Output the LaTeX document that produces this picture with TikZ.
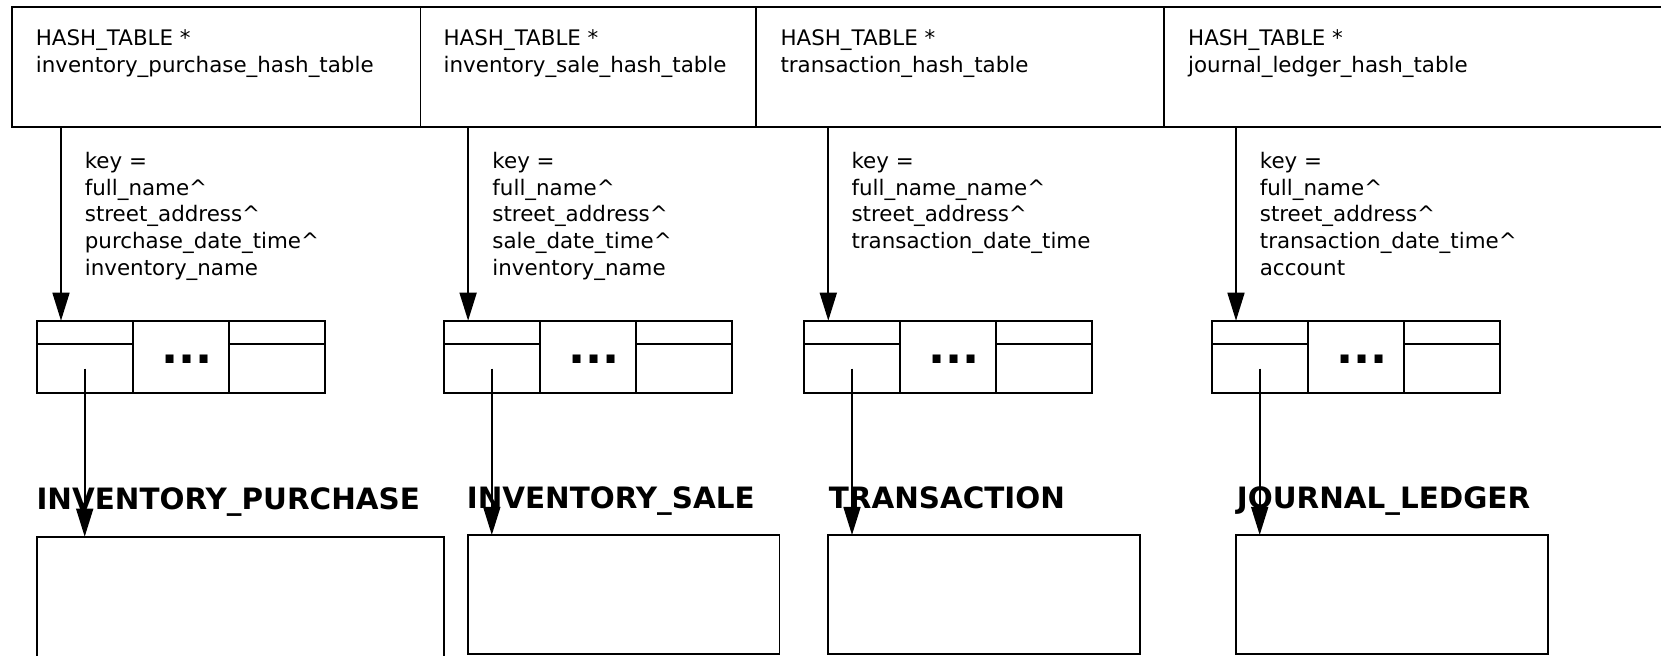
\documentclass[tikz,border=0pt]{standalone}
\usepackage{fontspec}
\setmainfont{DejaVu Sans}
\usetikzlibrary{arrows.meta}

\begin{document}
\begin{tikzpicture}[x=0.5pt, y=-0.5pt, line width=0.85pt]
        \tikzstyle{hashcell}=[draw, anchor=north west, inner sep=0pt, outer sep=0pt, minimum height=60pt]
        \tikzstyle{field}=[anchor=north west, inner sep=0pt, align=left, font=\fontsize{10.7pt}{13.3pt}\selectfont]
        \tikzstyle{bucket}=[draw, anchor=north west, inner sep=0pt, outer sep=0pt, minimum width=48pt, minimum height=36pt]
        \tikzstyle{ellipsis}=[anchor=base, inner sep=0pt, font=\fontsize{22.5pt}{26pt}\selectfont\bfseries]
        \tikzstyle{record}=[draw, anchor=north west, inner sep=0pt, outer sep=0pt, minimum height=59.5pt]
        \tikzstyle{tablename}=[anchor=base west, inner sep=0pt, font=\fontsize{14.7pt}{17pt}\selectfont\bfseries]
        \tikzstyle{arrow}=[-{Triangle[length=14pt, width=8.5pt]}]

        \useasboundingbox (0,0) rectangle (1661,656);

        % hash table pointers
        \node [style=hashcell, minimum width=204.4pt] (h1) at (11.7, 6.7) {};
        \node [style=hashcell, minimum width=167.75pt] (h2) at (420.5, 6.7) {};
        \node [style=hashcell, minimum width=204pt] (h3) at (756, 6.7) {};
        \node [style=hashcell, minimum width=260pt] (h4) at (1164, 6.7) {};
        \node [style=field] (n1) at (35, 29) {HASH\_TABLE *\\inventory\_purchase\_hash\_table};
        \node [style=field] (n2) at (442.8, 29) {HASH\_TABLE *\\inventory\_sale\_hash\_table};
        \node [style=field] (n3) at (779.7, 29) {HASH\_TABLE *\\transaction\_hash\_table};
        \node [style=field] (n4) at (1187.3, 29) {HASH\_TABLE *\\journal\_ledger\_hash\_table};

        % keys
        \node [style=field] (k1) at (84, 151.6) {key =\\full\_name\textasciicircum\\street\_address\textasciicircum\\purchase\_date\_time\textasciicircum\\inventory\_name};
        \node [style=field] (k2) at (491.6, 151.6) {key =\\full\_name\textasciicircum\\street\_address\textasciicircum\\sale\_date\_time\textasciicircum\\inventory\_name};
        \node [style=field] (k3) at (850.7, 151.6) {key =\\full\_name\_name\textasciicircum\\street\_address\textasciicircum\\transaction\_date\_time};
        \node [style=field] (k4) at (1259, 151.6) {key =\\full\_name\textasciicircum\\street\_address\textasciicircum\\transaction\_date\_time\textasciicircum\\account};

        % buckets
        \node [style=bucket] (b11) at (36.7, 320.7) {};
        \node [style=bucket] (b12) at (132.7, 320.7) {};
        \node [style=bucket] (b13) at (228.7, 320.7) {};
        \node [style=bucket] (b21) at (443.8, 320.7) {};
        \node [style=bucket] (b22) at (539.8, 320.7) {};
        \node [style=bucket] (b23) at (635.8, 320.7) {};
        \node [style=bucket] (b31) at (804, 320.7) {};
        \node [style=bucket] (b32) at (900, 320.7) {};
        \node [style=bucket] (b33) at (996, 320.7) {};
        \node [style=bucket] (b41) at (1211.7, 320.7) {};
        \node [style=bucket] (b42) at (1307.7, 320.7) {};
        \node [style=bucket] (b43) at (1403.7, 320.7) {};
        \node [style=ellipsis] (d1) at (186.7, 364) {...};
        \node [style=ellipsis] (d2) at (593.8, 364) {...};
        \node [style=ellipsis] (d3) at (954, 364) {...};
        \node [style=ellipsis] (d4) at (1361.7, 364) {...};
        \draw ([yshift=-11.8pt]b11.north west) to ([yshift=-11.8pt]b11.north east);
        \draw ([yshift=-11.8pt]b13.north west) to ([yshift=-11.8pt]b13.north east);
        \draw ([yshift=-11.8pt]b21.north west) to ([yshift=-11.8pt]b21.north east);
        \draw ([yshift=-11.8pt]b23.north west) to ([yshift=-11.8pt]b23.north east);
        \draw ([yshift=-11.8pt]b31.north west) to ([yshift=-11.8pt]b31.north east);
        \draw ([yshift=-11.8pt]b33.north west) to ([yshift=-11.8pt]b33.north east);
        \draw ([yshift=-11.8pt]b41.north west) to ([yshift=-11.8pt]b41.north east);
        \draw ([yshift=-11.8pt]b43.north west) to ([yshift=-11.8pt]b43.north east);

        % records
        \node [style=record, minimum width=203.65pt, minimum height=66.5pt] (r1) at (36.7, 536.7) {};
        \node [style=record, minimum width=155.8pt] (r2) at (468, 535) {};
        \node [style=record, minimum width=156pt] (r3) at (828, 535) {};
        \node [style=record, minimum width=156pt] (r4) at (1236, 535) {};
        \node [style=tablename] (t1) at (35.7, 510) {INVENTORY\_PURCHASE};
        \node [style=tablename] (t2) at (466, 508.7) {INVENTORY\_SALE};
        \node [style=tablename] (t3) at (828, 508.7) {TRANSACTION};
        \node [style=tablename] (t4) at (1236, 508.7) {JOURNAL\_LEDGER};

        % pointers
        \coordinate (p1) at ([xshift=12.15pt]b11.north west);
        \coordinate (p2) at ([xshift=12.15pt]b21.north west);
        \coordinate (p3) at ([xshift=12.15pt]b31.north west);
        \coordinate (p4) at ([xshift=12.15pt]b41.north west);
        \draw [style=arrow] (h1.south -| p1) to (p1);
        \draw [style=arrow] (h2.south -| p2) to (p2);
        \draw [style=arrow] (h3.south -| p3) to (p3);
        \draw [style=arrow] (h4.south -| p4) to (p4);
        \draw [style=arrow] ([yshift=-6pt]b11.center) to (b11.center |- r1.north);
        \draw [style=arrow] ([yshift=-6pt]b21.center) to (b21.center |- r2.north);
        \draw [style=arrow] ([yshift=-6pt]b31.center) to (b31.center |- r3.north);
        \draw [style=arrow] ([yshift=-6pt]b41.center) to (b41.center |- r4.north);
\end{tikzpicture}
\end{document}
